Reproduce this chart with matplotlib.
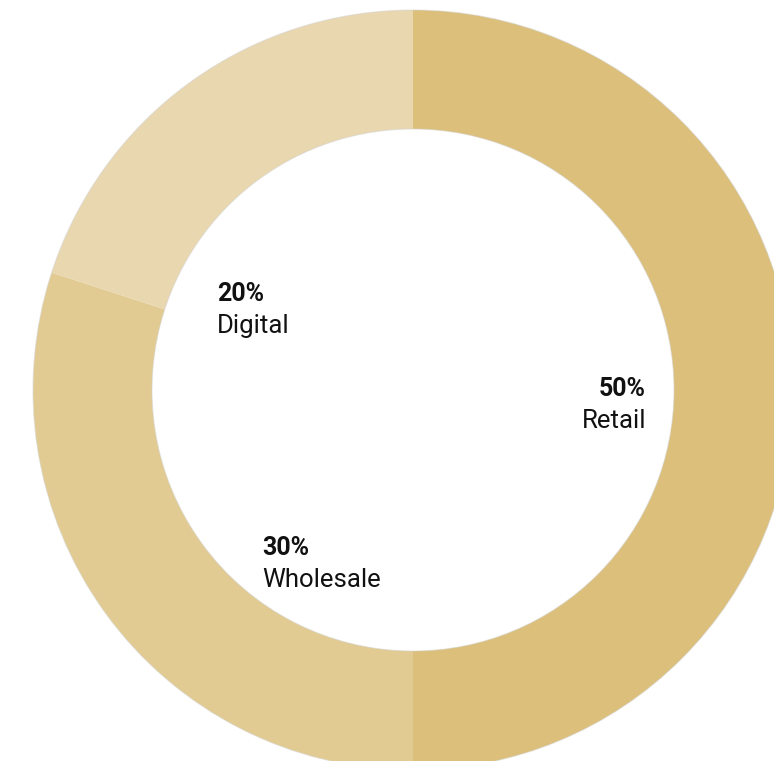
import matplotlib
matplotlib.use("Agg")
import matplotlib.pyplot as plt
from matplotlib.patches import Circle

# channel split
channels = ["Retail", "Wholesale", "Digital"]
shares = [50, 30, 20]
colors = ["#DBBF7B", "#E1CB92", "#E8D7AF"]

plt.rcParams['font.family'] = ['Roboto', 'DejaVu Sans']

W, H = 774, 761
cx, cy = 413, 390          # ring centre in pixels (from top-left)
r_out, r_in = 380, 261

fig = plt.figure(figsize=(W / 100, H / 100), dpi=100)
ax = fig.add_axes([0, 0, 1, 1])

ax.pie(shares, colors=colors, startangle=90, counterclock=False,
       radius=r_out, center=(0, 0),
       wedgeprops=dict(width=r_out - r_in, linewidth=0))

# faint rim on both edges of the ring
for r in (r_out, r_in):
    ax.add_patch(Circle((0, 0), r, fill=False, ec="#d4d4d4", lw=0.8, alpha=0.5))

ax.set_xlim(-cx, W - cx)
ax.set_ylim(-(H - cy), cy)
ax.set_aspect("equal")
ax.axis("off")


def label(px, py, pct, name, ha):
    x, y = px - cx, cy - py
    ax.text(x, y, f"{pct}%", ha=ha, va="baseline", fontsize=18,
            fontweight="bold", color="#111111")
    ax.text(x, y - 32, name, ha=ha, va="baseline", fontsize=18.5,
            color="#111111")


label(646, 396, shares[0], channels[0], "right")
label(262, 555, shares[1], channels[1], "left")
label(217, 301, shares[2], channels[2], "left")

fig.savefig("out.png", dpi=100)
